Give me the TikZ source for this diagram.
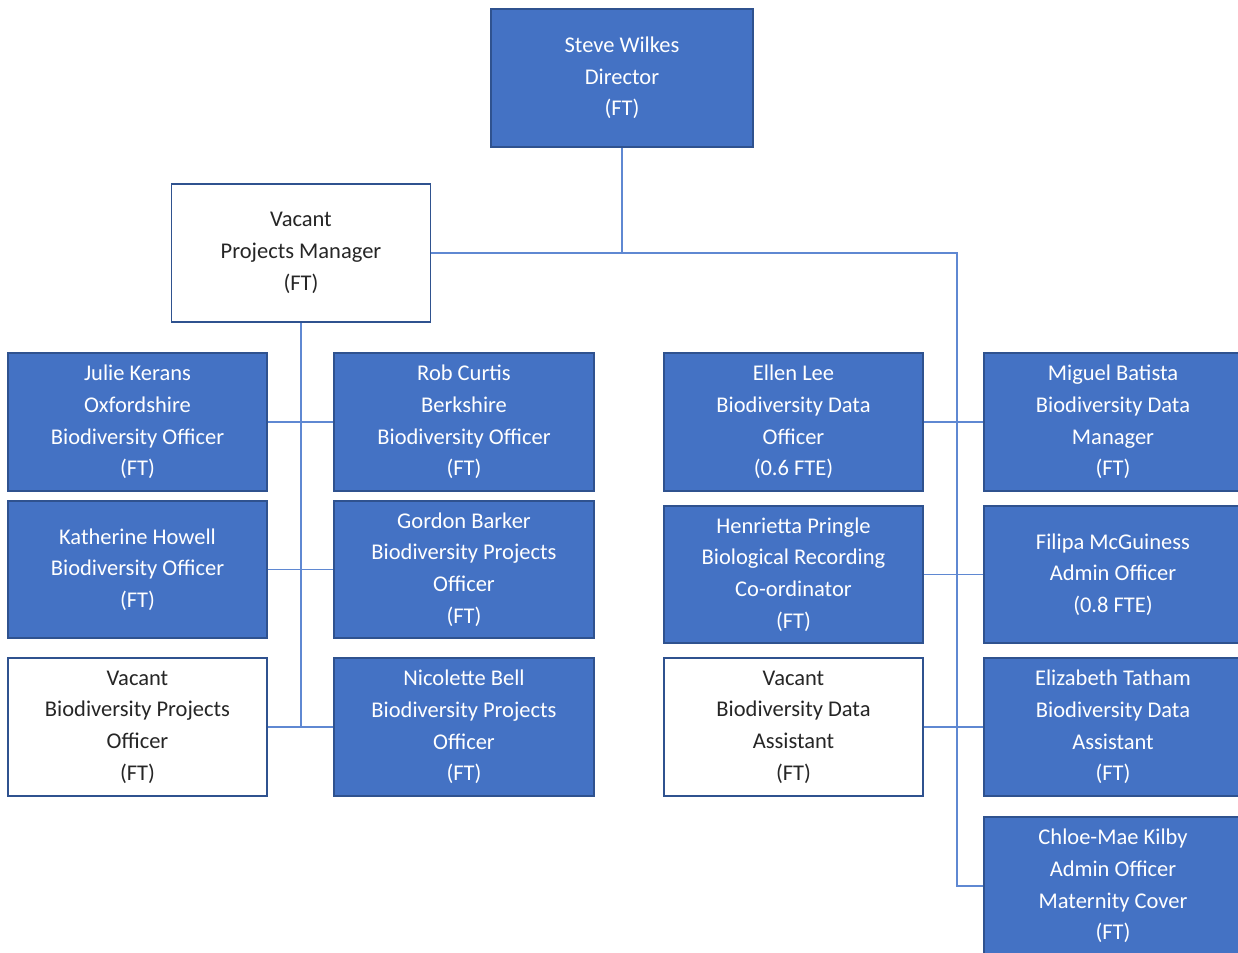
\documentclass[tikz,border=0pt]{standalone}
\usepackage{fontspec}
\setmainfont{Carlito}
\definecolor{boxblue}{HTML}{4472C4}
\definecolor{edgeblue}{HTML}{2F528F}
\definecolor{linkblue}{HTML}{5F88D2}
\begin{document}
\begin{tikzpicture}[x=1pt,y=-1pt,
  post/.style={draw=edgeblue,line width=1.6pt,fill=boxblue,text=white,align=center,
    inner sep=0pt,minimum width=#1,font=\fontsize{22.5}{31.7}\selectfont},
  post/.default=259pt,
  vacant/.style={post,fill=white,text=black!85},
  link/.style={draw=linkblue,line width=1.1pt}]
\clip (0,0) rectangle (1238,952);
\fill[white] (0,0) rectangle (1238,952);
% nodes
\node[post=262pt,minimum height=138pt] (dir) at (622,78) {Steve Wilkes\\Director\\(FT)};
\node[vacant=260pt,minimum height=138pt] (pm) at (301,253) {Vacant\\Projects Manager\\(FT)};
\node[post,minimum height=138pt] (julie) at (137.5,422) {Julie Kerans\\Oxfordshire\\Biodiversity Officer\\(FT)};
\node[post,minimum height=137pt] (kath) at (137.5,569.5) {Katherine Howell\\Biodiversity Officer\\(FT)};
\node[vacant,minimum height=138pt] (vbpo) at (137.5,727) {Vacant\\Biodiversity Projects\\Officer\\(FT)};
\node[post=260pt,minimum height=138pt] (rob) at (464,422) {Rob Curtis\\Berkshire\\Biodiversity Officer\\(FT)};
\node[post=260pt,minimum height=137pt] (gordon) at (464,569.5) {Gordon Barker\\Biodiversity Projects\\Officer\\(FT)};
\node[post=260pt,minimum height=138pt] (nic) at (464,727) {Nicolette Bell\\Biodiversity Projects\\Officer\\(FT)};
\node[post,minimum height=138pt] (ellen) at (793.5,422) {Ellen Lee\\Biodiversity Data\\Officer\\(0.6 FTE)};
\node[post,minimum height=137pt] (henr) at (793.5,574.5) {Henrietta Pringle\\Biological Recording\\Co-ordinator\\(FT)};
\node[vacant,minimum height=138pt] (vbda) at (793.5,727) {Vacant\\Biodiversity Data\\Assistant\\(FT)};
\node[post=258pt,minimum height=138pt] (miguel) at (1113,422) {Miguel Batista\\Biodiversity Data\\Manager\\(FT)};
\node[post=258pt,minimum height=137pt] (filipa) at (1113,574.5) {Filipa McGuiness\\Admin Officer\\(0.8 FTE)};
\node[post=258pt,minimum height=138pt] (eliz) at (1113,727) {Elizabeth Tatham\\Biodiversity Data\\Assistant\\(FT)};
\node[post=258pt,minimum height=138pt] (chloe) at (1113,886) {Chloe-Mae Kilby\\Admin Officer\\Maternity Cover\\(FT)};
% connectors
\coordinate (rt) at (957,253);
\draw[link] (dir.south) -- (dir.south |- rt);
\draw[link] (pm.east) -- (rt) -- (rt |- chloe.west) -- (chloe.west);
\draw[link] (pm.south) -- (pm.south |- vbpo.east);
\draw[link] (julie.east) -- (rob.west);
\draw[link] (kath.east) -- (gordon.west);
\draw[link] (vbpo.east) -- (nic.west);
\draw[link] (ellen.east) -- (miguel.west);
\draw[link] (henr.east) -- (filipa.west);
\draw[link] (vbda.east) -- (eliz.west);
\end{tikzpicture}
\end{document}
